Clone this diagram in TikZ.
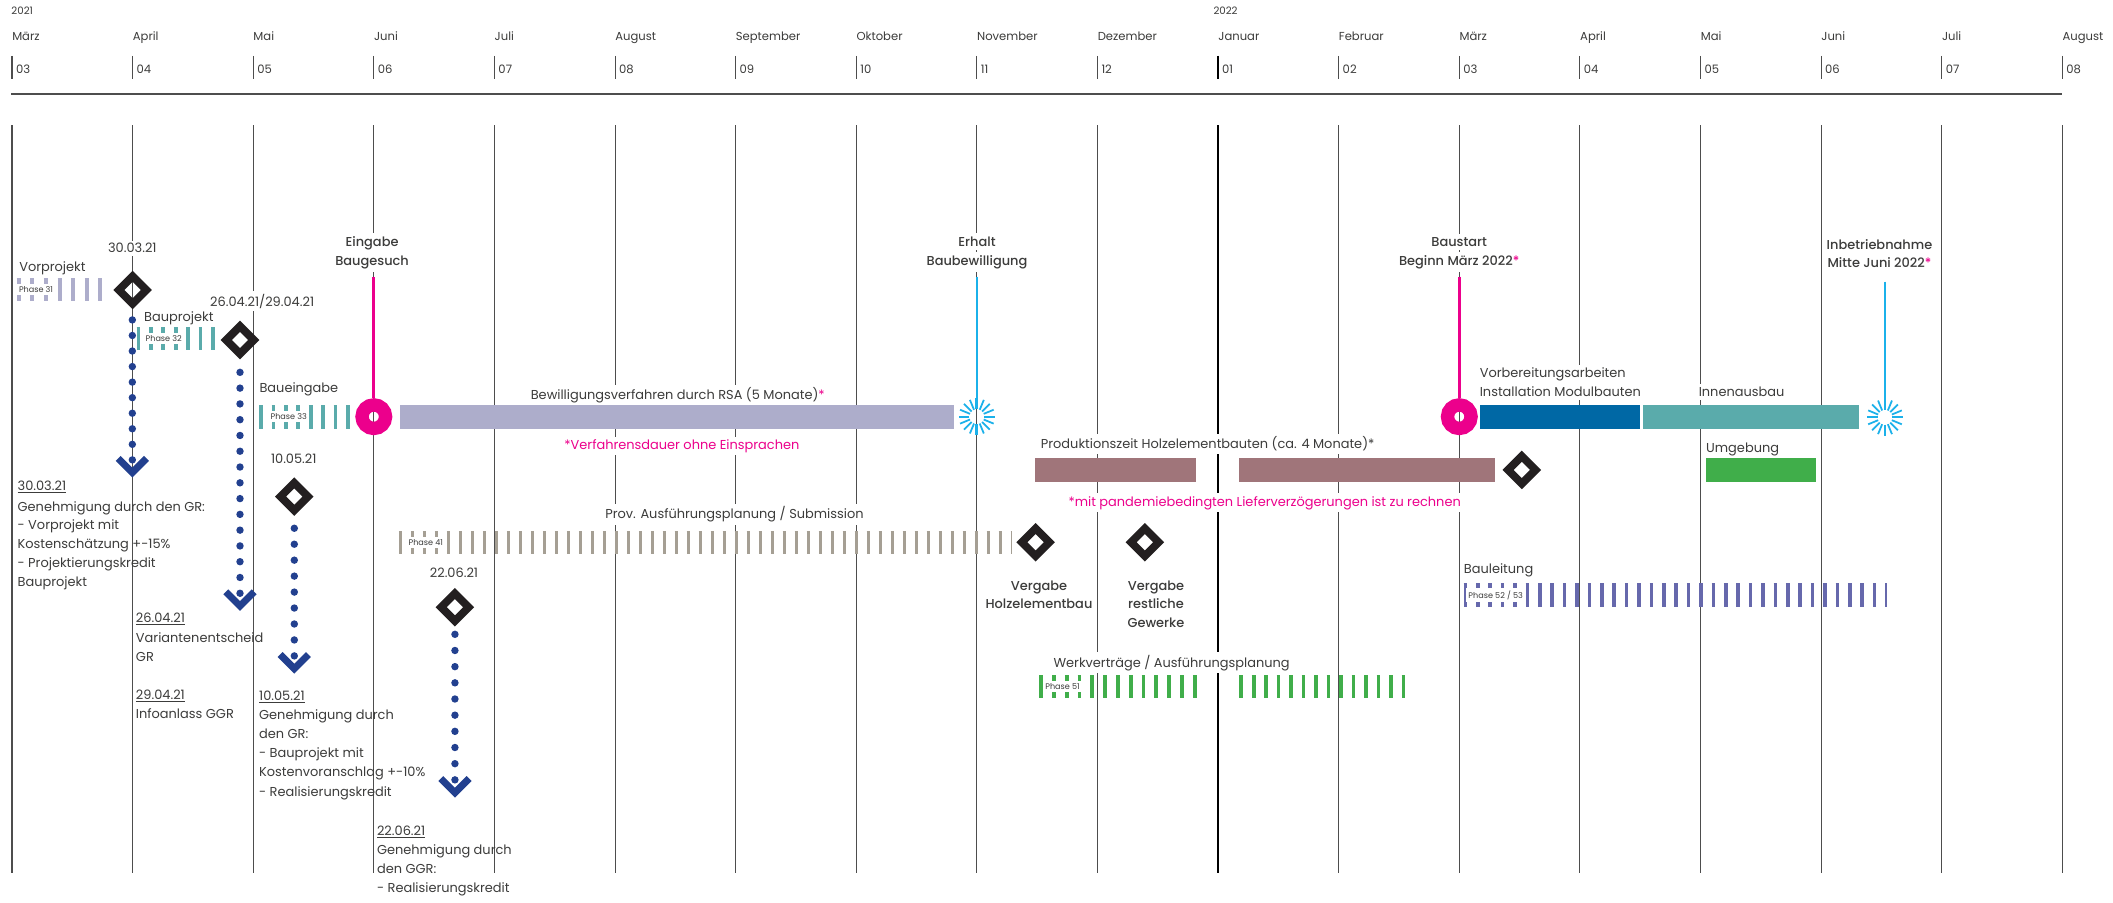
\documentclass[tikz,border=0pt]{standalone}
\usepackage{fontspec}
\setmainfont{Poppins}[BoldFont=* Medium]
\usetikzlibrary{shapes.geometric,calc}
\definecolor{txt}{HTML}{3C3C3B}
\definecolor{gridc}{HTML}{4D4D4D}
\definecolor{cLav}{HTML}{ADADCB}
\definecolor{cTeal}{HTML}{5AABAB}
\definecolor{cWarm}{HTML}{A59F94}
\definecolor{cMauve}{HTML}{A0757A}
\definecolor{cBlue}{HTML}{0068A5}
\definecolor{cGreen}{HTML}{40AE4A}
\definecolor{cPurp}{HTML}{6668AC}
\definecolor{cDot}{HTML}{22408F}
\definecolor{cMag}{HTML}{EC008C}
\definecolor{cCyan}{HTML}{1BB1EA}
\definecolor{cDia}{HTML}{231F20}
\newcommand\bodyfont{\fontsize{9.6}{14.2}\selectfont}
\newcommand\hdrfont{\fontsize{8.6}{10}\selectfont}
\newcommand\phasefont{\fontsize{6}{7}\selectfont}
\newcommand\yrfont{\fontsize{7.6}{9}\selectfont}
\newcommand\dul[1]{\setbox0\hbox{#1}\rlap{\rule[-1.8pt]{\wd0}{0.6pt}}#1}
\newcommand\pstar{{\color{cMag}*}}
\tikzset{
  lbl/.style={font=\bodyfont, text=txt, fill=white, inner xsep=1pt, inner ysep=2pt, anchor=base west},
  lblc/.style={font=\bodyfont\bfseries, text=txt, fill=white, inner xsep=1.5pt, inner ysep=2.5pt, anchor=base},
  datec/.style={font=\bodyfont, text=txt, fill=white, inner xsep=1pt, inner ysep=2pt, anchor=base},
  blk/.style={font=\bodyfont, text=txt, inner sep=0pt, anchor=base west},
  pnote/.style={lbl, text=cMag},
  hdr/.style={font=\hdrfont, text=txt, inner sep=0pt, anchor=base west},
  phase/.style={font=\phasefont, text=txt, fill=white, inner xsep=1.5pt, inner ysep=1.8pt, anchor=west},
  gridline/.style={draw=gridc, line width=0.8pt},
  stripes/.style={line width=17.3pt},
  diam/.style={diamond, draw=cDia, line width=5.8pt, minimum width=22.8pt, minimum height=22.8pt, inner sep=0pt},
  dotline/.style={draw=cDot, line width=5.5pt, line cap=round},
  chev/.style={draw=cDot, line width=5.2pt, line join=miter},
  ring/.style={circle, draw=cMag, line width=9.9pt, minimum size=17.5pt, inner sep=0pt},
  magline/.style={draw=cMag, line width=2pt},
  cyanline/.style={draw=cCyan, line width=1.6pt},
  ray/.style={draw=cCyan, line width=1.3pt},
}
\begin{document}
\begin{tikzpicture}[x=1pt,y=-1pt]
\useasboundingbox (0,0) rectangle (1568,670);
\fill[white] (0,0) rectangle (1568,670);
% grid
\foreach \m in {0,...,17} \draw[gridline] ({8.9+89.5*\m},93) -- ({8.9+89.5*\m},647.5);
\draw[line width=2pt, black] (903.9,93) -- (903.9,647.5);
% header
\node[font=\yrfont, text=txt, inner sep=0pt, anchor=base west] (yr1) at (8.3,11.1) {2021};
\node[font=\yrfont, text=txt, inner sep=0pt, anchor=base west] (yr2) at (900.3,11.1) {2022};
\foreach \m/\nm/\nu in {0/März/03,1/April/04,2/Mai/05,3/Juni/06,4/Juli/07,5/August/08,6/September/09,7/Oktober/10,8/November/11,9/Dezember/12,10/Januar/01,11/Februar/02,12/März/03,13/April/04,14/Mai/05,15/Juni/06,16/Juli/07,17/August/08}{
  \node[hdr] (mn\m) at ({8.9+89.5*\m},30.4) {\nm};
  \draw[draw=gridc, line width=0.8pt] ({8.9+89.5*\m},41.5) -- ({8.9+89.5*\m},58.6);
  \node[hdr] (nu\m) at ({8.9+89.5*\m+2.8},54.4) {\nu};
}
\draw[line width=2pt, black] (903.9,41.5) -- (903.9,58.6);
\draw[line width=1.3pt, draw=gridc] (8.3,69.7) -- (1530.4,69.7);
% labels with white background
\node[lbl] (tVor) at (13.1,201.2) {Vorprojekt};
\node[datec] (t3003) at (98.2,187.6) {30.03.21};
\node[lbl] (tBaup) at (105.8,238.3) {Bauprojekt};
\node[lbl] (t2604) at (154.8,227.1) {26.04.21/29.04.21};
\node[lbl] (tBaue) at (191.4,291.5) {Baueingabe};
\node[datec] (t1005) at (218,343.9) {10.05.21};
\node[datec] (t2206) at (336.9,428.7) {22.06.21};
\node[lblc] (tEin1) at (276.1,182.6) {Eingabe};
\node[lblc] (tEin2) at (276.1,197) {Baugesuch};
\node[lblc] (tErh1) at (725,182.6) {Erhalt};
\node[lblc] (tErh2) at (725,197) {Baubewilligung};
\node[lblc] (tBst1) at (1082.8,182.6) {Baustart};
\node[lblc] (tBst2) at (1082.8,197) {Beginn März 2022\pstar};
\node[lblc] (tInb1) at (1394.7,185.1) {Inbetriebnahme};
\node[lblc] (tInb2) at (1394.7,198.7) {Mitte Juni 2022\pstar};
\node[lbl] (tBew) at (392.7,296.4) {Bewilligungsverfahren durch RSA (5 Monate)\pstar};
\node[pnote] (tVerf) at (417.6,333.5) {*Verfahrensdauer ohne Einsprachen};
\node[lbl] (tProd) at (771.2,332.8) {Produktionszeit Holzelementbauten (ca. 4 Monate)*};
\node[pnote] (tPand) at (791.7,375.5) {*mit pandemiebedingten Lieferverzögerungen ist zu rechnen};
\node[lbl] (tProv) at (448,384.8) {Prov. Ausführungsplanung / Submission};
\node[lblc] (tVH1) at (771,438.1) {Vergabe};
\node[lblc] (tVH2) at (771,451.7) {Holzelementbau};
\node[lblc] (tVR1) at (857.8,438.1) {Vergabe};
\node[lblc] (tVR2) at (857.8,451.7) {restliche};
\node[lblc] (tVR3) at (857.8,465.8) {Gewerke};
\node[lbl] (tWerk) at (780.6,495) {Werkverträge / Ausführungsplanung};
\node[lbl] (tVorb1) at (1096.9,280.3) {Vorbereitungsarbeiten};
\node[lbl] (tVorb2) at (1096.9,294.4) {Installation Modulbauten};
\node[lbl] (tInn) at (1259.4,294.4) {Innenausbau};
\node[lbl] (tUmg) at (1264.9,336) {Umgebung};
\node[lbl] (tBaul) at (1085.1,425.8) {Bauleitung};
% text blocks
\node[blk] (b1a) at (12.9,363.9) {\dul{30.03.21}};
\node[blk] (b1b) at (12.9,379.3) {Genehmigung durch den GR:};
\node[blk] (b1c) at (12.9,393.1) {- Vorprojekt mit};
\node[blk] (b1d) at (12.9,406.9) {Kostenschätzung +-15\%};
\node[blk] (b1e) at (12.9,420.8) {- Projektierungskredit};
\node[blk] (b1f) at (12.9,434.9) {Bauprojekt};
\node[blk] (b2a) at (100.7,461.6) {\dul{26.04.21}};
\node[blk] (b2b) at (100.7,476.9) {Variantenentscheid};
\node[blk] (b2c) at (100.7,490.6) {GR};
\node[blk] (b2d) at (100.7,519) {\dul{29.04.21}};
\node[blk] (b2e) at (100.7,533.1) {Infoanlass GGR};
\node[blk] (b3a) at (192.1,519.7) {\dul{10.05.21}};
\node[blk] (b3b) at (192.1,533.8) {Genehmigung durch};
\node[blk] (b3c) at (192.1,547.9) {den GR:};
\node[blk] (b3d) at (192.1,562.3) {- Bauprojekt mit};
\node[blk] (b3e) at (192.1,576.3) {Kostenvoranschlag +-10\%};
\node[blk] (b3f) at (192.1,590.7) {- Realisierungskredit};
\node[blk] (b4a) at (279.6,619.7) {\dul{22.06.21}};
\node[blk] (b4b) at (279.6,634) {Genehmigung durch};
\node[blk] (b4c) at (279.6,648.1) {den GGR:};
\node[blk] (b4d) at (279.6,662.4) {- Realisierungskredit};
% solid bars
\fill[cLav] (296.9,300.5) rectangle (707.6,318.3);
\fill[cBlue] (1097.9,300.5) rectangle (1217,318.3);
\fill[cTeal] (1219.3,300.5) rectangle (1379.6,318.3);
\fill[cMauve] (768.2,340.1) rectangle (887.7,357.9);
\fill[cMauve] (919.6,340.1) rectangle (1109.3,357.9);
\fill[cGreen] (1265.9,340.1) rectangle (1347.8,357.9);
% striped bars
\draw[stripes, cLav, dash pattern=on 3pt off 7.1pt] (12.4,214.9) -- (76.7,214.9);
\draw[stripes, cTeal, dash pattern=on 2.8pt off 6.4pt] (101.4,251) -- (159.6,251);
\draw[stripes, cTeal, dash pattern=on 2.8pt off 6.4pt] (192.4,309.4) -- (260.2,309.4);
\draw[stripes, cWarm, dash pattern=on 2.6pt off 6.3pt] (296,402.6) -- (750.7,402.6);
\draw[stripes, cGreen, dash pattern=on 2.8pt off 6.7pt] (771.2,509.5) -- (888,509.5);
\draw[stripes, cGreen, dash pattern=on 2.8pt off 6.47pt] (919.6,509.5) -- (1042.5,509.5);
\draw[stripes, cPurp, dash pattern=on 2.7pt off 6.5pt] (1086.1,441.5) -- (1400,441.5);
% phase labels
\node[phase] (p31) at (12.4,214.9) {Phase 31};
\node[phase] (p32) at (106.4,251) {Phase 32};
\node[phase] (p33) at (199.1,309.4) {Phase 33};
\node[phase] (p41) at (301.5,402.6) {Phase 41};
\node[phase] (p51) at (774,509.5) {Phase 51};
\node[phase] (p52) at (1088,441.5) {Phase 52 / 53};
% milestones (diamonds)
\node[diam] (d1) at (98.4,215.2) {};
\node[diam] (d2) at (178.1,252.3) {};
\node[diam] (d3) at (218.4,368.5) {};
\node[diam] (d4) at (337.6,450.6) {};
\node[diam] (d5) at (768.5,402.4) {};
\node[diam] (d6) at (849.6,402.4) {};
\node[diam] (d7) at (1129.3,348.7) {};
% dotted arrows
\coordinate (ch1) at (98.2,341.4);
\coordinate (ch2) at (178.1,440.4);
\coordinate (ch3) at (218.4,486.9);
\coordinate (ch4) at (337.6,578.9);
\draw[dotline, dash pattern=on 0pt off 11.54pt] ($(d1.center)+(-0.2,22.2)$) -- (ch1);
\draw[dotline, dash pattern=on 0pt off 11.71pt] ($(d2.center)+(0,24)$) -- (ch2);
\draw[dotline, dash pattern=on 0pt off 11.84pt] ($(d3.center)+(0,23.5)$) -- (ch3);
\draw[dotline, dash pattern=on 0pt off 12pt] ($(d4.center)+(0,20.1)$) -- (ch4);
\foreach \c in {ch1,ch2,ch3,ch4}
  \draw[chev] ($(\c)+(-10.5,-1.2)$) -- ($(\c)+(0,9.3)$) -- ($(\c)+(10.5,-1.2)$);
% rings
\node[ring] (r1) at (277.4,309.2) {};
\node[ring] (r2) at (1082.9,309.2) {};
\coordinate (r1top) at (277.4,205.8);
\coordinate (r2top) at (1082.9,205.3);
\draw[magline] (r1top) -- (r1.north);
\draw[magline] (r2top) -- (r2.north);
% bursts
\coordinate (bs1) at (724.9,309.2);
\coordinate (bs2) at (1398.8,309.7);
\coordinate (bs1top) at (724.9,205.3);
\coordinate (bs2top) at (1398.8,209);
\draw[cyanline] (bs1top) -- ($(bs1)+(0,-13.5)$);
\draw[cyanline] (bs2top) -- ($(bs2)+(0,-13.5)$);
\foreach \b in {bs1,bs2}{
  \foreach \a in {0,22.5,...,337.5}
    \draw[ray] ($(\b)+(\a:5.5)$) -- ($(\b)+(\a:13.5)$);
  \draw[ray, line width=2.2pt] ($(\b)+(0,-5.5)$) -- ($(\b)+(0,-13.5)$);
  \draw[ray, line width=2.2pt] ($(\b)+(0,5.5)$) -- ($(\b)+(0,13.5)$);
}
\end{tikzpicture}
\end{document}
